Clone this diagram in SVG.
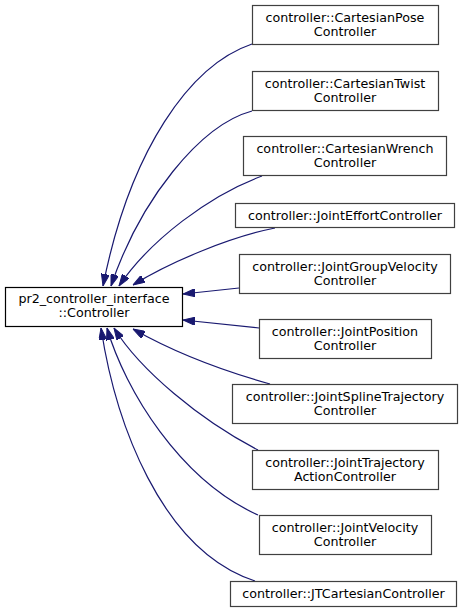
<svg xmlns="http://www.w3.org/2000/svg" width="465" height="613" viewBox="0 0 465 613">
<style>
.box{fill:#ffffff;stroke:#404040;stroke-width:1.2}
.base{fill:#ffffff;stroke:#000000;stroke-width:1.2}
text{font-family:"DejaVu Sans",sans-serif;font-size:12.7px;text-anchor:middle;fill:#000000}
.edge{fill:none;stroke:#191970;stroke-width:1.2}
</style>
<defs>
<marker id="arr" viewBox="0 0 12 8" refX="12" refY="4" markerWidth="12" markerHeight="8" markerUnits="userSpaceOnUse" orient="auto">
<path d="M0,0 L12,4 L0,8 z" fill="#191970" stroke="#191970"/>
</marker>
</defs>
<g id="connectors">
<path class="edge" marker-end="url(#arr)" d="M252,44 C190,65 130,150 103,286"/>
<path class="edge" marker-end="url(#arr)" d="M252,111 C200,125 140,200 111,286"/>
<path class="edge" marker-end="url(#arr)" d="M262,176 C210,195 150,240 119,286"/>
<path class="edge" marker-end="url(#arr)" d="M275,228 C230,237 170,262 133,285"/>
<path class="edge" marker-end="url(#arr)" d="M239,288 L183,294"/>
<path class="edge" marker-end="url(#arr)" d="M259,328 L183,320"/>
<path class="edge" marker-end="url(#arr)" d="M270,384 C220,370 170,350 133,329"/>
<path class="edge" marker-end="url(#arr)" d="M258,450 C200,420 140,370 114,328"/>
<path class="edge" marker-end="url(#arr)" d="M258,515 C180,480 125,390 107,328"/>
<path class="edge" marker-end="url(#arr)" d="M255,581 C160,550 115,420 101,328"/>
</g>
<g id="base">
<rect class="base" x="5.5" y="287.5" width="177" height="39"/>
<text x="94" y="303">pr2_controller_interface</text>
<text x="94" y="317">::Controller</text>
</g>
<g id="n1">
<rect class="box" x="252.5" y="5.5" width="186" height="39"/>
<text x="345" y="22">controller::CartesianPose</text>
<text x="345" y="36">Controller</text>
</g>
<g id="n2">
<rect class="box" x="252.5" y="71.5" width="186" height="39"/>
<text x="345" y="88">controller::CartesianTwist</text>
<text x="345" y="102">Controller</text>
</g>
<g id="n3">
<rect class="box" x="243.5" y="136.5" width="203" height="39"/>
<text x="345" y="153">controller::CartesianWrench</text>
<text x="345" y="167">Controller</text>
</g>
<g id="n4">
<rect class="box" x="235.5" y="203.5" width="219" height="24"/>
<text x="345" y="219.5">controller::JointEffortController</text>
</g>
<g id="n5">
<rect class="box" x="239.5" y="254.5" width="211" height="39"/>
<text x="345" y="271">controller::JointGroupVelocity</text>
<text x="345" y="285">Controller</text>
</g>
<g id="n6">
<rect class="box" x="259.5" y="319.5" width="172" height="39"/>
<text x="345" y="336">controller::JointPosition</text>
<text x="345" y="350">Controller</text>
</g>
<g id="n7">
<rect class="box" x="232.5" y="384.5" width="225" height="39"/>
<text x="345" y="401">controller::JointSplineTrajectory</text>
<text x="345" y="415">Controller</text>
</g>
<g id="n8">
<rect class="box" x="252.5" y="450.5" width="186" height="39"/>
<text x="345" y="467">controller::JointTrajectory</text>
<text x="345" y="481">ActionController</text>
</g>
<g id="n9">
<rect class="box" x="259.5" y="515.5" width="172" height="39"/>
<text x="345" y="532">controller::JointVelocity</text>
<text x="345" y="546">Controller</text>
</g>
<g id="n10">
<rect class="box" x="230.5" y="581.5" width="226" height="25"/>
<text x="343.5" y="598">controller::JTCartesianController</text>
</g>
</svg>
